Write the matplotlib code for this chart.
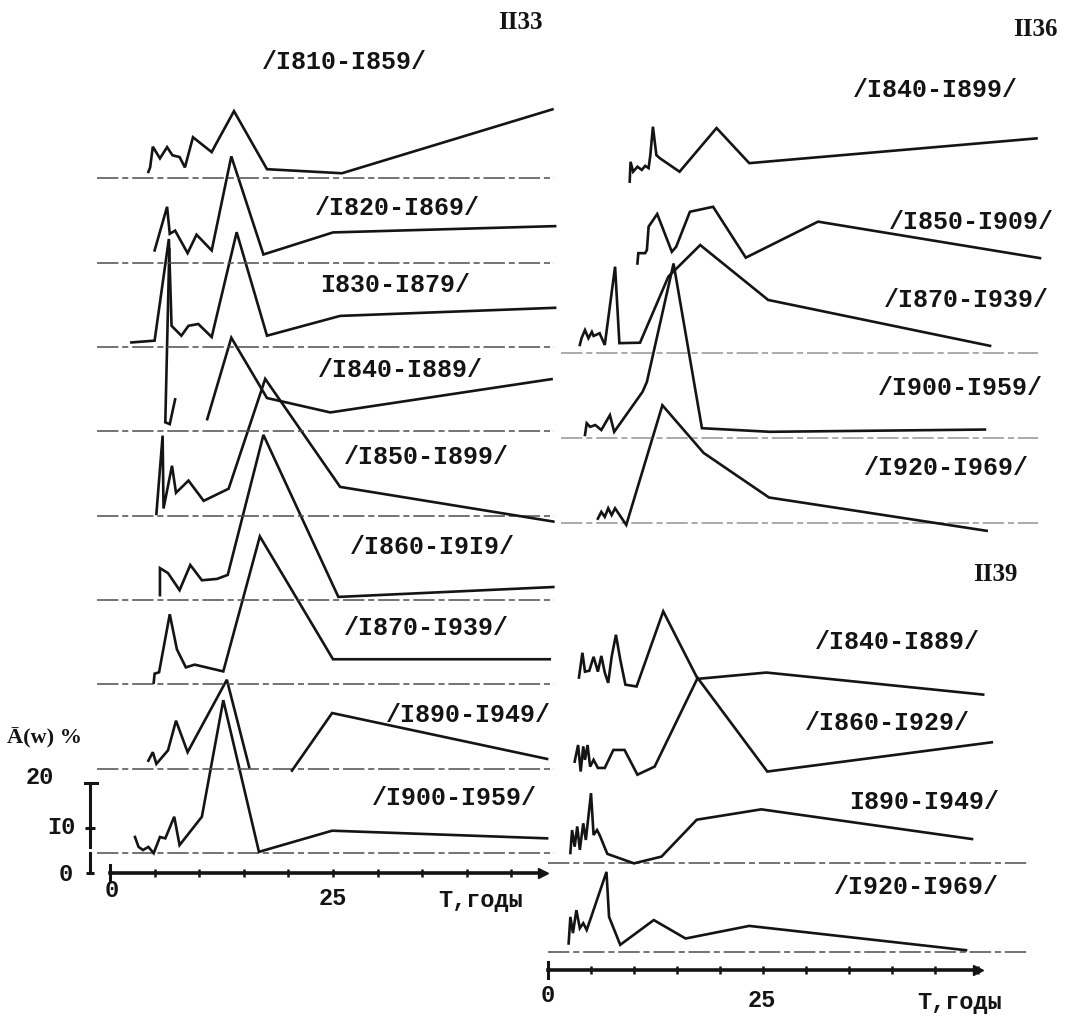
import numpy as np
import matplotlib.pyplot as plt

# ---- station II33 (left panel): period T, years / amplitude A(w), % ----
t_1810 = [4.3, 4.5, 4.8, 5.6, 6.4, 7.0, 7.8, 8.4, 9.3, 11.4, 11.8, 13.9, 17.6, 26.0, 49.6]
a_1810 = [1.4, 2.4, 7.0, 4.4, 6.9, 5.1, 4.7, 2.4, 9.1, 5.8, 7.3, 14.9, 2.0, 1.1, 15.3]
t_1820 = [5.0, 6.4, 6.7, 7.3, 8.7, 9.7, 11.4, 13.6, 17.2, 25.0, 49.9]
a_1820 = [2.7, 12.4, 6.4, 7.1, 2.1, 6.2, 2.7, 23.6, 1.8, 6.7, 8.1]
t_1830 = [2.4, 5.0, 6.6, 6.9, 8.0, 8.8, 9.9, 11.4, 14.2, 17.6, 25.8, 49.9]
a_1830 = [1.0, 1.4, 24.0, 4.7, 2.5, 4.7, 5.1, 2.2, 25.5, 2.5, 6.9, 8.7]
t_1840 = [6.65, 6.2, 6.7, 7.3, np.nan, 10.9, 13.6, 17.6, 24.7, 49.5]
a_1840 = [40.4, 2.0, 1.6, 7.1, np.nan, 2.7, 20.8, 7.4, 4.2, 11.6]
t_1850 = [5.2, 5.9, 6.0, 6.95, 7.4, 8.8, 10.5, 13.3, 17.4, 25.8, 49.7]
a_1850 = [0.4, 17.8, 1.6, 11.1, 5.1, 7.8, 3.3, 6.0, 30.4, 6.4, -1.3]
t_1860 = [5.6, 5.6, 6.5, 7.8, 9.0, 10.3, 12.0, 13.2, 17.2, 25.6, 49.7]
a_1860 = [1.1, 7.1, 6.0, 2.2, 7.8, 4.4, 4.7, 5.6, 36.7, 0.7, 2.9]
t_1870 = [4.9, 5.0, 5.5, 6.7, 7.5, 8.5, 9.5, 12.7, 16.8, 25.0, 49.3]
a_1870 = [0.4, 2.4, 2.7, 15.6, 7.8, 3.8, 4.4, 2.9, 32.9, 5.6, 5.6]
t_1890 = [4.3, 4.8, 5.2, 6.5, 7.4, 8.7, 13.1, 15.6, np.nan, 20.4, 24.9, 49.0]
a_1890 = [1.8, 3.7, 1.1, 4.1, 10.7, 3.7, 19.8, 0.4, np.nan, -0.4, 12.4, 2.2]
t_1900 = [2.8, 3.2, 3.7, 4.3, 4.9, 5.6, 6.2, 7.2, 7.8, 10.3, 12.7, 16.7, 24.9, 49.0]
a_1900 = [3.6, 1.4, 0.7, 1.4, 0.0, 3.6, 3.3, 8.1, 1.8, 8.1, 34.0, 0.3, 5.0, 3.3]

# ---- station II36 (right panel, top) ----
t36_1840 = [9.5, 9.6, 9.9, 10.4, 10.9, 11.3, 11.7, 11.9, 12.2, 12.6, 13.0, 15.3, 19.6, 23.4, 56.8]
a36_1840 = [0.3, 4.7, 2.5, 3.6, 2.9, 3.8, 3.3, 6.2, 12.5, 6.2, 5.5, 2.5, 12.2, 4.4, 9.9]
t36_1850 = [10.4, 10.5, 11.3, 11.5, 11.7, 12.7, 14.4, 14.9, 16.5, 19.2, 23.0, 31.4, 57.2]
a36_1850 = [1.0, 3.3, 3.3, 4.0, 9.2, 12.0, 3.6, 4.7, 12.5, 13.6, 2.3, 10.3, 2.2]
t36_1870 = [3.7, 3.9, 4.3, 4.7, 5.1, 5.3, 6.0, 6.6, 7.8, 8.3, 10.7, 14.0, 17.7, 25.6, 51.4]
a36_1870 = [1.8, 3.3, 5.1, 3.3, 4.7, 3.8, 4.4, 1.8, 19.2, 2.2, 2.3, 17.0, 24.0, 11.8, 1.6]
t36_1900 = [4.3, 4.5, 4.9, 5.5, 6.2, 7.2, 7.7, 11.0, 11.5, 14.6, 17.9, 25.8, 50.8]
a36_1900 = [0.7, 3.3, 2.5, 2.9, 1.8, 5.1, 1.4, 10.3, 12.5, 38.8, 2.2, 1.4, 1.9]
t36_1920 = [5.8, 6.2, 6.6, 7.0, 7.4, 7.8, 9.1, 13.3, 18.1, 25.7, 51.0]
a36_1920 = [1.0, 2.5, 1.4, 3.3, 1.8, 3.3, -0.4, 26.2, 15.6, 5.7, -1.7]

# ---- station II39 (right panel, bottom) ----
t39_1840 = [3.6, 4.0, 4.3, 4.8, 5.3, 5.8, 6.2, 6.6, 7.0, 7.4, 7.9, 8.4, 9.0, 10.3, 13.4, 17.4, 25.4, 50.6]
a39_1840 = [1.6, 7.1, 2.9, 3.1, 6.2, 2.9, 6.4, 2.7, 0.4, 6.2, 11.1, 5.6, 0.0, -0.4, 16.3, 1.3, 2.7, -2.2]
t39_1860 = [3.1, 3.5, 3.8, 4.1, 4.3, 4.6, 4.9, 5.3, 5.8, 6.6, 7.6, 8.9, 10.4, 12.4, 17.4, 25.5, 51.6]
a39_1860 = [2.7, 6.4, 0.5, 6.1, 3.1, 6.4, 1.6, 3.1, 1.3, 1.3, 5.3, 5.3, -0.2, 1.6, 21.3, 0.5, 7.0]
t39_1890 = [2.6, 2.8, 3.1, 3.4, 3.7, 4.1, 4.4, 5.0, 5.3, 5.7, 6.0, 6.9, 10.0, 13.2, 17.3, 24.8, 49.3]
a39_1890 = [2.2, 7.3, 3.6, 8.1, 2.9, 8.8, 5.1, 15.5, 6.2, 7.3, 6.2, 2.0, -0.1, 1.4, 9.6, 11.9, 5.3]
t39_1920 = [2.4, 2.6, 2.9, 3.3, 3.7, 4.1, 4.5, 4.9, 6.8, 7.1, 8.4, 12.3, 16.0, 23.4, 48.6]
a39_1920 = [1.9, 7.8, 4.2, 9.3, 5.3, 6.4, 4.9, 7.1, 17.8, 7.8, 1.6, 7.1, 3.0, 5.8, 0.4]

left_curves = [
    ("/I900-I959/", t_1900, a_1900),
    ("/I890-I949/", t_1890, a_1890),
    ("/I870-I939/", t_1870, a_1870),
    ("/I860-I9I9/", t_1860, a_1860),
    ("/I850-I899/", t_1850, a_1850),
    ("/I840-I889/", t_1840, a_1840),
    ("I830-I879/", t_1830, a_1830),
    ("/I820-I869/", t_1820, a_1820),
    ("/I810-I859/", t_1810, a_1810),
]
right_top = [
    ("/I920-I969/", t36_1920, a36_1920),
    ("/I900-I959/", t36_1900, a36_1900),
    ("/I870-I939/", t36_1870, a36_1870),
    ("/I850-I909/", t36_1850, a36_1850),
    ("/I840-I899/", t36_1840, a36_1840),
]
right_bottom = [
    ("/I920-I969/", t39_1920, a39_1920),
    ("I890-I949/", t39_1890, a39_1890),
    ("/I860-I929/", t39_1860, a39_1860),
    ("/I840-I889/", t39_1840, a39_1840),
]

# label positions (T, A) in each panel, same order as the curve lists
left_label_pos = [(38.6, 16.7), (40.2, 35.1), (35.5, 54.4), (36.1, 72.4), (35.5, 92.4),
                  (32.6, 111.8), (32.0, 130.7), (32.2, 147.8), (26.3, 180.2)]
top_label_pos = [(46.3, 111.6), (48.0, 129.3), (48.6, 148.9), (49.2, 166.2), (45.1, 195.6)]
bot_label_pos = [(42.8, 18.4), (43.7, 37.3), (39.5, 54.9), (40.6, 72.9)]

INK = "#141414"
LBL = dict(family="Liberation Mono", fontweight="bold", fontsize=18, color=INK,
           ha="center", va="center")

fig = plt.figure(figsize=(10.65, 10.19), dpi=100)
fig.patch.set_facecolor("white")

# pixel scale: left 8.92 px/yr, right 8.6 px/yr, 4.5 px per percent
axl = fig.add_axes([0, 0, 560 / 1065, 1])
axl.set_xlim(-110 / 8.92, 450 / 8.92)
axl.set_ylim(-(1019 - 873) / 4.5, 873 / 4.5)
axr = fig.add_axes([530 / 1065, 0, 535 / 1065, 1])
axr.set_xlim(-18 / 8.6, 517 / 8.6)
axr.set_ylim(-(1019 - 970) / 4.5, 970 / 4.5)
for ax in (axl, axr):
    ax.set_axis_off()
    ax.patch.set_alpha(0)


def draw_stack(ax, curves, base0, step, label_pos, x0, x1, n_base, base_alpha=1.0):
    # only the lowest n_base baselines are visible on the sheet
    for k, (name, t, a) in enumerate(curves):
        off = base0 + k * step
        if k < n_base:
            ax.plot([x0, x1], [off, off], color="0.3", lw=1.1, dashes=(14, 2.5, 4, 2.5),
                    alpha=base_alpha, clip_on=False)
        ax.plot(t, np.array(a) + off, color=INK, lw=1.9, solid_joinstyle="miter", clip_on=False)
        ax.text(*label_pos[k], name, **LBL)


draw_stack(axl, left_curves, 4.4, 18.75, left_label_pos, -1.5, 49.8, 9)
draw_stack(axr, right_top, 99.3, 18.9, top_label_pos, 1.5, 57.0, 3, 0.6)
draw_stack(axr, right_bottom, 4.0, 19.8, bot_label_pos, 0.0, 56.0, 2)

# time axes
for ax, tend, ticks in ((axl, 48.5, np.arange(0, 50, 5)), (axr, 50.0, np.arange(0, 51, 5))):
    ax.plot([0, tend], [0, 0], color=INK, lw=2.6, clip_on=False)
    ax.plot(ticks, np.zeros(len(ticks)), ls="none", marker="|", ms=6, mew=1.8, color=INK,
            clip_on=False)
    ax.plot([0, 0], [-1.8, 1.8], color=INK, lw=2.2, clip_on=False)
    ax.plot([tend], [0], marker=">", ms=7, color=INK, clip_on=False)

AX_TXT = dict(family="Liberation Mono", fontweight="bold", fontsize=17, color=INK,
              ha="center", va="center")
axl.text(0.2, -3.8, "0", **AX_TXT)
axl.text(25, -5.6, "25", **AX_TXT)
axl.text(41.5, -6.0, "T,годы", **AX_TXT)
axr.text(0, -5.6, "0", **AX_TXT)
axr.text(24.9, -6.7, "25", **AX_TXT)
axr.text(47.9, -7.3, "T,годы", **AX_TXT)

# amplitude ruler, A(w) %
axl.plot([-2.24, -2.24], [0, 4.4], color=INK, lw=2.2, clip_on=False)
axl.plot([-2.24, -2.24], [5.8, 20], color=INK, lw=2.2, clip_on=False)
axl.plot([-2.8, -1.5], [20, 20], color=INK, lw=2.2, clip_on=False)
axl.plot([-2.24], [10], marker="_", ms=7, mew=2.2, color=INK, clip_on=False)
axl.plot([-2.24], [0], marker="_", ms=6, mew=2.2, color=INK, clip_on=False)
axl.text(-7.85, 21.3, "20", **AX_TXT)
axl.text(-5.4, 10.0, "I0", **AX_TXT)
axl.text(-5.0, -0.4, "0", **AX_TXT)
axl.text(-7.3, 30.0, "Ā(w) %", family="Liberation Serif", fontweight="bold", fontsize=16,
         color=INK, ha="center", va="center")

# station numbers
HEAD = dict(family="Liberation Serif", fontweight="bold", fontsize=18, color=INK,
            ha="center", va="center")
axl.text(46.0, 189.1, "II33", **HEAD)
axr.text(59.3, 208.9, "II36", **dict(HEAD, ha="right"))
axr.text(52.0, 87.8, "II39", **HEAD)

fig.savefig("out.png", dpi=100, facecolor="white")
